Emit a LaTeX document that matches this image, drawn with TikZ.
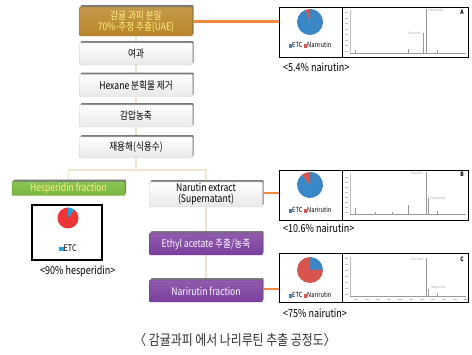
\documentclass[tikz,border=0pt]{standalone}
\usepackage{fontspec}
\setmainfont{Noto Sans CJK KR}[FakeStretch=0.82]
\usepackage{tikz}
\usetikzlibrary{backgrounds}
\usetikzlibrary{shadows}
\usetikzlibrary{positioning, fit, arrows.meta}

\definecolor{goldbox}{HTML}{B8862B}
\definecolor{greenbox}{HTML}{77B83C}
\definecolor{purplebox}{HTML}{7B3F9E}
\definecolor{yellowtext}{HTML}{FFF27A}
\definecolor{shadowgray}{HTML}{7A7A7A}
\definecolor{beige}{HTML}{EDE5D0}
\definecolor{orangeline}{HTML}{F0883E}
\definecolor{pieblue}{HTML}{3A87C6}
\definecolor{piered}{HTML}{D9534F}
\definecolor{hespred}{HTML}{EE3535}
\definecolor{hespcyan}{HTML}{19A3DC}

\tikzset{
  stepbox/.style={rectangle, rounded corners=1pt, minimum width=113pt, minimum height=22pt,
    inner sep=1pt, align=center, font=\fontsize{10.5}{11}\selectfont, draw=gray!40,
    top color=white, bottom color=gray!18,
    drop shadow={shadow xshift=1.2pt, shadow yshift=1.8pt, fill=shadowgray, opacity=1}},
  goldstep/.style={stepbox, draw=goldbox!80!black, top color=goldbox!85!white, bottom color=goldbox, text=yellowtext},
  greenstep/.style={stepbox, draw=greenbox!80!black, top color=greenbox!85!white, bottom color=greenbox, text=yellowtext},
  purplestep/.style={stepbox, draw=purplebox!80!black, top color=purplebox!85!white, bottom color=purplebox, text=white},
  panel/.style={draw=black, line width=0.9pt, fill=white, inner sep=0pt},
  tag/.style={font=\fontsize{11}{12}\selectfont, inner sep=0pt, anchor=west},
  legend/.style={font=\fontsize{7}{7}\selectfont, inner sep=0pt},
  peaklabel/.style={font=\fontsize{3.5}{3.5}\selectfont, text=gray!70, inner sep=0.5pt},
  panelid/.style={font=\fontsize{6}{6}\selectfont\bfseries, inner sep=0pt},
  link/.style={beige, line width=1.6pt},
  feed/.style={orangeline, line width=2.6pt},
  peak/.style={gray!80, line width=0.4pt},
  tick/.style={gray!50, line width=0.3pt}
}

\begin{document}
\begin{tikzpicture}[x=1pt, y=1pt]
  \useasboundingbox (0,0) rectangle (472,355);

  % main column
  \node[goldstep, minimum height=29pt] (gold) at (136,333.5) {감귤 과피 분말\\70\%-주정 추출(UAE)};
  \node[stepbox] (filt) at (136,301) {여과};
  \node[stepbox] (hex) at (136,269.5) {Hexane 분획물 제거};
  \node[stepbox] (conc) at (136,239) {감압농축};
  \node[stepbox, minimum height=21pt] (redis) at (136,207.5) {재용해(식용수)};
  \coordinate (split) at (136,185);

  % branches
  \node[greenstep, minimum height=14pt] (hesp) at (68.5,166.5) {Hesperidin fraction};
  \node[stepbox, minimum height=25pt] (narext) at (206,160.5) {Narutin extract\\(Supernatant)};
  \node[purplestep] (ethyl) at (206,111) {Ethyl acetate 추출/농축};
  \node[purplestep] (narfr) at (206,64) {Narirutin fraction};

  \begin{scope}[on background layer]
    \draw[link] (gold) -- (filt) -- (hex) -- (conc) -- (redis) -- (split);
    \draw[link] (hesp.north) |- (split) -| (narext.north);
    \draw[link] (narext) -- (ethyl) -- (narfr);
  \end{scope}

  % panel A
  \node[panel, minimum width=63pt, minimum height=50pt] (pieA) at (310.5,323) {};
  \node[panel, minimum width=126pt, minimum height=50pt] (chromA) at (405,323) {};
  \fill[pieblue] (310,333) -- ++(109.44:13) arc[start angle=109.44, end angle=450, radius=13] -- cycle;
  \fill[piered] (310,333) -- ++(90:13) arc[start angle=90, end angle=109.44, radius=13] -- cycle;
  \node[legend] (legA) at (310,310) {\textcolor{pieblue}{\rule{3.5pt}{3.5pt}}ETC\ \textcolor{piered}{\rule{3.5pt}{3.5pt}}Narirutin};
  \draw[tick] (350,302) -- (350,345);
  \draw[peak] (350,302) -- (466,302);
  \foreach \t in {0,...,7}
    \draw[tick] (345,304+5.5*\t) -- (348,304+5.5*\t);
  \draw[peak] (423,302) -- (423,322);
  \draw[peak] (426,302) -- (426,346);
  \draw[peak] (355,302) -- (355,305);
  \draw[peak] (408,302) -- (408,306);
  \draw[peak] (437,302) -- (437,305);
  \node[peaklabel, anchor=east] (nA) at (421,322) {Narirutin};
  \node[peaklabel, anchor=west] (hA) at (428,344) {Hesperidin};
  \node[panelid] (idA) at (462,343) {A};
  \node[tag] (tagA) at (283,288) {<5.4\% nairutin>};
  \draw[feed] (gold.east) -- (gold.east -| pieA.west);

  % panel B
  \node[panel, minimum width=63pt, minimum height=50pt] (pieB) at (310.5,160) {};
  \node[panel, minimum width=126pt, minimum height=50pt] (chromB) at (405,160) {};
  \fill[pieblue] (310,170) -- ++(128.16:13) arc[start angle=128.16, end angle=450, radius=13] -- cycle;
  \fill[piered] (310,170) -- ++(90:13) arc[start angle=90, end angle=128.16, radius=13] -- cycle;
  \node[legend] (legB) at (310,145) {\textcolor{pieblue}{\rule{3.5pt}{3.5pt}}ETC\ \textcolor{piered}{\rule{3.5pt}{3.5pt}}Narirutin};
  \draw[tick] (350,141) -- (350,182);
  \draw[peak] (350,141) -- (466,141);
  \foreach \t in {0,...,7}
    \draw[tick] (345,143+5*\t) -- (348,143+5*\t);
  \draw[peak] (426,141) -- (426,183);
  \draw[peak] (428,141) -- (428,157);
  \draw[peak] (408,141) -- (408,150);
  \draw[peak] (355,141) -- (355,147);
  \draw[peak] (375,141) -- (375,143);
  \draw[peak] (392,141) -- (392,143);
  \draw[peak] (437,141) -- (437,144);
  \node[peaklabel, anchor=east] (nB) at (424,182) {Narirutin};
  \node[peaklabel, anchor=west] (hB) at (430,156) {Hesperidin};
  \node[panelid] (idB) at (462,181) {B};
  \node[tag] (tagB) at (283,127) {<10.6\% nairutin>};
  \draw[feed] (narext.east |- 0,162) -- (pieB.west |- 0,162);

  % panel C
  \node[panel, minimum width=63pt, minimum height=49pt] (pieC) at (310.5,77.5) {};
  \node[panel, minimum width=126pt, minimum height=49pt] (chromC) at (405,77.5) {};
  \fill[pieblue] (310,85) -- ++(0:13) arc[start angle=0, end angle=90, radius=13] -- cycle;
  \fill[piered] (310,85) -- ++(90:13) arc[start angle=90, end angle=360, radius=13] -- cycle;
  \node[legend] (legC) at (310,60) {\textcolor{pieblue}{\rule{3.5pt}{3.5pt}}ETC\ \textcolor{piered}{\rule{3.5pt}{3.5pt}}Narirutin};
  \draw[tick] (350,59) -- (350,98);
  \draw[peak] (350,59) -- (466,59);
  \foreach \t in {0,...,6}
    \draw[tick] (345,61+6*\t) -- (348,61+6*\t);
  \foreach \t in {0,...,10}
    \draw[tick] (354+11*\t,56) -- (358+11*\t,56);
  \draw[peak] (426,59) -- (426,97);
  \draw[peak] (428,59) -- (428,66);
  \draw[peak] (437,59) -- (437,62);
  \node[peaklabel, anchor=east] (nC) at (424,96) {Narirutin};
  \node[peaklabel, anchor=west] (hC) at (430,67) {Hesperidin};
  \node[panelid] (idC) at (462,96) {C};
  \node[tag] (tagC) at (283,42) {<75\% nairutin>};
  \draw[feed] (narfr.east |- 0,66) -- (pieC.west |- 0,66);

  % hesperidin panel
  \node[panel, line width=1.3pt, minimum width=70pt, minimum height=55pt] (pieH) at (67,122.5) {};
  \fill[hespred] (68,137) -- ++(90:10.5) arc[start angle=90, end angle=414, radius=10.5] -- cycle;
  \fill[hespcyan] (68,137) -- ++(54:10.5) arc[start angle=54, end angle=90, radius=10.5] -- cycle;
  \node[legend, font=\fontsize{9}{9}\selectfont] (legH) at (68,107) {\textcolor{hespcyan}{\rule{4.5pt}{4.5pt}}ETC};
  \node[tag] (tagH) at (40,84) {<90\% hesperidin>};

  % caption
  \node[font=\fontsize{14.5}{15}\selectfont, text=black!80, inner sep=0pt] (caption) at (235,15) {〈 감귤과피 에서 나리루틴 추출 공정도〉};
\end{tikzpicture}
\end{document}
